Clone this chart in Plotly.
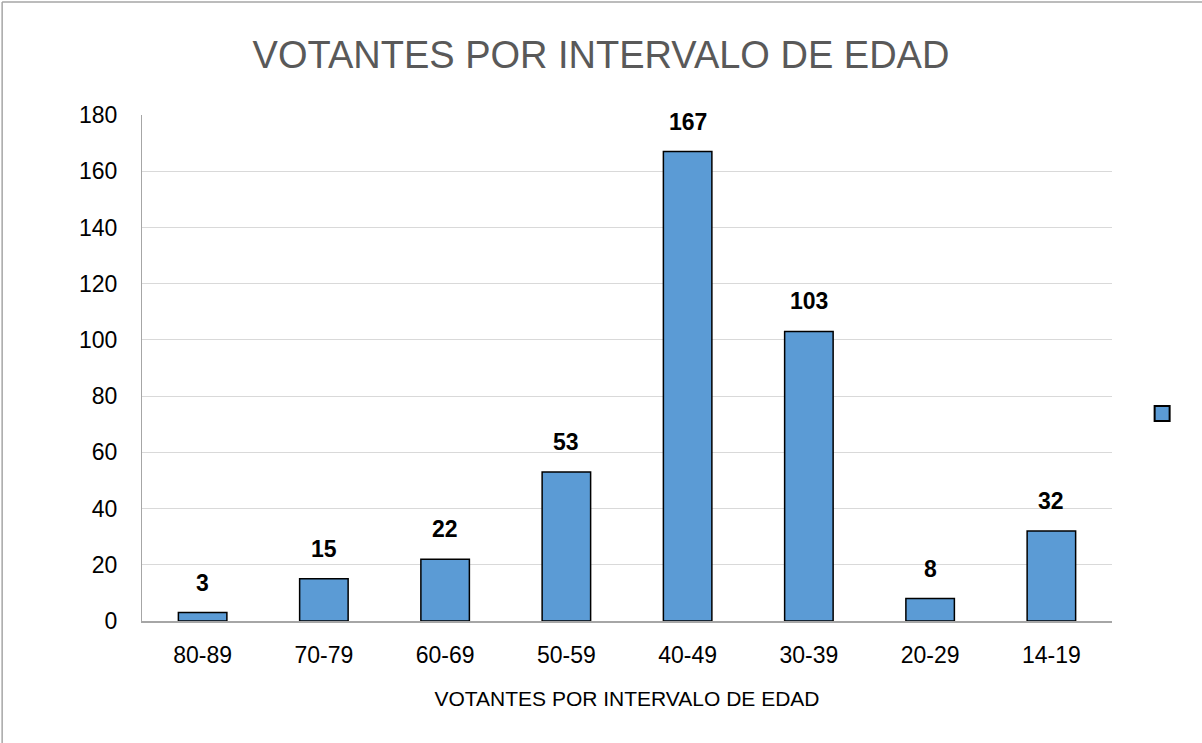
import plotly.graph_objects as go

categories = ["80-89", "70-79", "60-69", "50-59", "40-49", "30-39", "20-29", "14-19"]
values = [3, 15, 22, 53, 167, 103, 8, 32]
y_ticks = [0, 20, 40, 60, 80, 100, 120, 140, 160, 180]

title_text = "VOTANTES POR INTERVALO DE EDAD"
x_title = "VOTANTES POR INTERVALO DE EDAD"

FONT = "Liberation Sans"
BAR_COLOR = "#5B9BD5"

W, H = 1202, 743
L, R, T, B = 142, 89, 115, 122
PW, PH = W - L - R, H - T - B

fig = go.Figure()
fig.add_trace(go.Bar(
    x=categories, y=values, name=" ",
    marker=dict(color=BAR_COLOR, line=dict(color="#000000", width=1.5)),
    showlegend=False, hoverinfo="x+y",
))
# legend entry (square swatch, no label)
fig.add_trace(go.Scatter(
    x=[None], y=[None], mode="markers", name=" ",
    marker=dict(symbol="square", size=15, color=BAR_COLOR,
                line=dict(color="#000000", width=2)),
    showlegend=True,
))

for c, v in zip(categories, values):
    fig.add_annotation(x=c, y=v, text=f"<b>{v}</b>", showarrow=False,
                       yanchor="bottom", yshift=15,
                       font=dict(family=FONT, size=23, color="#000000"))

bx = (2 - L) / PW
by = 1 + (T - 2) / PH

fig.update_layout(
    width=W, height=H,
    margin=dict(l=L, r=R, t=T, b=B),
    paper_bgcolor="white", plot_bgcolor="white",
    title=dict(text=title_text, x=0.5, xref="container", xanchor="center",
               y=1 - 55 / H, yref="container", yanchor="middle",
               font=dict(family=FONT, size=38, color="#595959")),
    bargap=0.6,
    xaxis=dict(
        type="category",
        showline=True, linecolor="#a6a6a6", linewidth=1.5,
        ticks="", ticklabelstandoff=13,
        tickfont=dict(family=FONT, size=23, color="#000000"),
        title=dict(text=x_title, standoff=24,
                   font=dict(family=FONT, size=21, color="#000000")),
        showgrid=False,
    ),
    yaxis=dict(
        range=[0, 180], tickvals=y_ticks,
        showline=True, linecolor="#a6a6a6", linewidth=1,
        showgrid=True, gridcolor="#d9d9d9", gridwidth=1,
        zeroline=False,
        ticklabelstandoff=19,
        tickfont=dict(family=FONT, size=23, color="#000000"),
    ),
    legend=dict(x=1.03, y=(621 - 414) / 506, xanchor="left", yanchor="middle",
                bgcolor="rgba(0,0,0,0)", font=dict(family=FONT, size=14)),
    shapes=[
        dict(type="line", xref="paper", yref="paper",
             x0=bx, x1=bx, y0=by, y1=-0.3,
             line=dict(color="#a6a6a6", width=1.5)),
        dict(type="line", xref="paper", yref="paper",
             x0=bx, x1=1.2, y0=by, y1=by,
             line=dict(color="#a6a6a6", width=1.5)),
    ],
)

fig.write_html("out.html", config={"displayModeBar": False},
               post_script="document.body.style.margin='0';document.body.style.overflow='hidden';")
